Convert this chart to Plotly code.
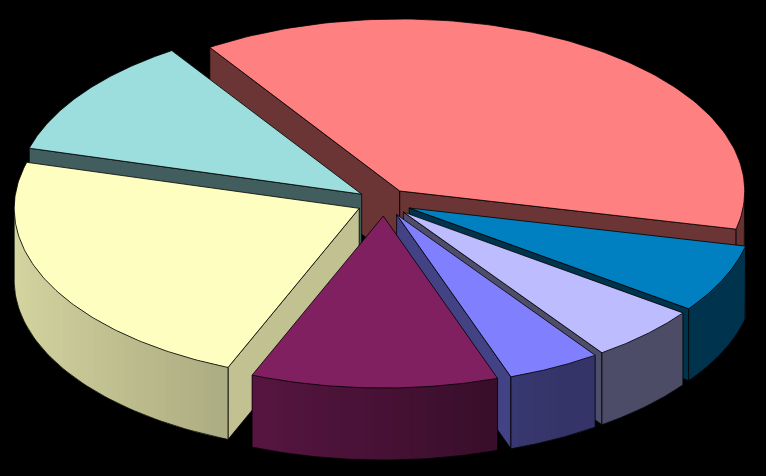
import numpy as np
import plotly.graph_objects as go

# slice shares in percent, clockwise from the red one
names = ["red", "blue", "lavender", "periwinkle", "purple", "yellow", "teal"]
shares = [37.8, 6.4, 5.27, 4.38, 11.57, 23.08, 11.4]
top_colors = ["#FF8080", "#0080C0", "#BCBCFF", "#8080FF", "#802060", "#FEFEC0", "#9CDEDE"]
cut_shade = [0.42, 0.40, 0.42, 0.52, 0.45, 0.76, 0.42]
draw_order = ["red", "teal", "yellow", "blue", "lavender", "periwinkle", "purple"]

first_angle = -33.4
explode = 0.08

# how the pie sits on the page (pixels)
cx, cy = 384, 202.3
rx, ry = 345, 172
depth = 72

# outer wall gets lighter going round to the left
shade_angles = [90, 150, 160, 202, 240, 285]
shade_values = [0.40, 0.41, 0.44, 0.68, 0.80, 0.88]


def scale(color, k):
    r, g, b = [int(color[i:i + 2], 16) for i in (1, 3, 5)]
    return "rgb(%d,%d,%d)" % (r * k, g * k, b * k)


def to_page(angle, r, ox, oy):
    a = np.radians(angle)
    return ox + rx * r * np.sin(a), oy - ry * r * np.cos(a)


def poly(fig, xs, ys, fill, line="black", width=0.8):
    fig.add_trace(go.Scatter(x=list(xs), y=list(ys), mode="lines", fill="toself", fillcolor=fill,
                             line=dict(color=line, width=width), hoverinfo="skip", showlegend=False))


def outline(fig, xs, ys):
    fig.add_trace(go.Scatter(x=list(xs), y=list(ys), mode="lines", line=dict(color="black", width=0.8),
                             hoverinfo="skip", showlegend=False))


fractions = np.array(shares) / sum(shares) * 360
starts = first_angle + np.concatenate([[0], np.cumsum(fractions)[:-1]])

fig = go.Figure()

for name in draw_order:
    i = names.index(name)
    a0, a1 = starts[i], starts[i] + fractions[i]
    mid = (a0 + a1) / 2
    ox, oy = to_page(mid, explode, cx, cy)
    color = top_colors[i]
    cut = scale(color, cut_shade[i])

    # cut faces, only the ones turned to the viewer
    for a, facing in ((a0, -np.sin(np.radians(a0))), (a1, np.sin(np.radians(a1)))):
        if facing > 0:
            ex, ey = to_page(a, 1, ox, oy)
            poly(fig, [ox, ex, ex, ox, ox], [oy, ey, ey + depth, oy + depth, oy], cut)

    # outer wall, front half only, in overlapping strips for the gradient
    lo, hi = max(a0, 90), min(a1, 270)
    if hi > lo:
        edges = np.linspace(lo, hi, int((hi - lo) / 1.5) + 2)
        for j in range(len(edges) - 1):
            k = np.interp((edges[j] + edges[j + 1]) / 2, shade_angles, shade_values)
            end = edges[min(j + 2, len(edges) - 1)]
            arc = np.array([edges[j], edges[j + 1], end])
            ax, ay = to_page(arc, 1, ox, oy)
            poly(fig, np.r_[ax, ax[::-1], ax[0]], np.r_[ay, ay[::-1] + depth, ay[0]], scale(color, k),
                 line=scale(color, k), width=0)
        arc = np.linspace(lo, hi, 60)
        ax, ay = to_page(arc, 1, ox, oy)
        outline(fig, np.r_[ax[0], ax, ax[-1]], np.r_[ay[0], ay + depth, ay[-1]])

    # top face
    arc = np.linspace(a0, a1, 120)
    ax, ay = to_page(arc, 1, ox, oy)
    poly(fig, np.r_[ox, ax, ox], np.r_[oy, ay, oy], color)

fig.update_layout(
    width=766,
    height=476,
    margin=dict(l=0, r=0, t=0, b=0),
    paper_bgcolor="black",
    plot_bgcolor="black",
    xaxis=dict(range=[0, 766], visible=False),
    yaxis=dict(range=[476, 0], visible=False),
    showlegend=False,
)

fig.write_html("out.html", config={"displayModeBar": False},
               post_script="document.body.style.margin='0';document.body.style.background='black';")
